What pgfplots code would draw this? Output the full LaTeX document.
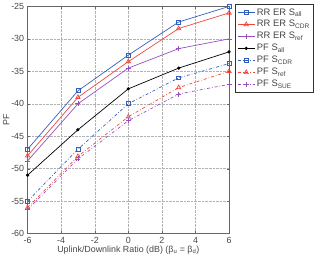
\documentclass[border=0pt]{standalone}
\usepackage{pgfplots}
\pgfplotsset{compat=1.18}
\usepackage{fontspec}
\setmainfont{Liberation Sans}

\definecolor{cblue}{RGB}{50,95,190}
\definecolor{cred}{RGB}{240,70,60}
\definecolor{cpurple}{RGB}{150,80,190}
\definecolor{tickgray}{RGB}{70,70,70}

\begin{document}
\begin{tikzpicture}
\begin{axis}[
  scale only axis,
  width=204pt, height=230pt,
  xmin=-6, xmax=6, ymin=-60, ymax=-25,
  xtick={-6,-4,...,6}, ytick={-60,-55,...,-25},
  grid=major,
  major grid style={densely dotted, gray!60},
  tick align=inside,
  major tick length=2.5pt,
  axis line style={gray!80!black},
  tick style={gray!80!black},
  font=\fontsize{9}{10}\selectfont,
  ticklabel style={text=tickgray},
  /pgf/number format/assume math mode=true,
  xlabel={Uplink/Downlink Ratio (dB) (β\textsubscript{u} = β\textsubscript{d})},
  ylabel={PF},
  xlabel style={text=tickgray, yshift=4pt},
  ylabel style={text=tickgray, yshift=-5pt},
  legend style={
    at={(1.03,1.01)}, anchor=north west,
    font=\fontsize{9.5}{11}\selectfont,
    draw=black!80, line width=0.7pt,
    row sep=0pt, inner sep=2pt,
    cells={anchor=west, text=tickgray},
  },
  every axis legend/.append style={name=leg},
  legend image post style={line width=0.7pt},
  legend image code/.code={
    \draw[mark repeat=2,mark phase=2] plot coordinates {(0cm,0cm) (0.3cm,0cm) (0.6cm,0cm)};
  },
  legend cell align=left,
  every axis plot/.append style={line width=0.7pt, mark size=2pt},
]
% RR ER schemes
\addplot[cblue, mark=square] coordinates {(-6,-47) (-3,-38) (0,-32.5) (3,-27.4) (6,-25)};
\addlegendentry{RR ER S\textsubscript{all}}
\addplot[cred, mark=triangle, mark size=2.5pt] coordinates {(-6,-48) (-3,-39) (0,-33.5) (3,-28.4) (6,-26)};
\addlegendentry{RR ER S\textsubscript{CDR}}
\addplot[cpurple, mark=+, mark size=2.5pt] coordinates {(-6,-48.8) (-3,-40) (0,-34.5) (3,-31.5) (6,-30)};
\addlegendentry{RR ER S\textsubscript{ref}}
% PF schemes
\addplot[black, mark=*, mark size=1.3pt] coordinates {(-6,-51) (-3,-44) (0,-37.7) (3,-34.5) (6,-32)};
\addlegendentry{PF S\textsubscript{all}}
\addplot[cblue, dashdotted, mark=square, mark options={solid}] coordinates {(-6,-55) (-3,-47) (0,-40) (3,-36) (6,-33.8)};
\addlegendentry{PF S\textsubscript{CDR}}
\addplot[cred, dashdotted, mark=triangle, mark size=2.5pt, mark options={solid}] coordinates {(-6,-56) (-3,-48.1) (0,-42) (3,-37.5) (6,-35)};
\addlegendentry{PF S\textsubscript{ref}}
\addplot[cpurple, dashdotted, mark=+, mark size=2.5pt, mark options={solid}] coordinates {(-6,-56.3) (-3,-48.5) (0,-42.6) (3,-38.5) (6,-37)};
\addlegendentry{PF S\textsubscript{SUE}}
\end{axis}
% a little room to the right of the legend
\path (leg.east) ++(3pt,0) coordinate (rightpad);
\end{tikzpicture}
\end{document}
